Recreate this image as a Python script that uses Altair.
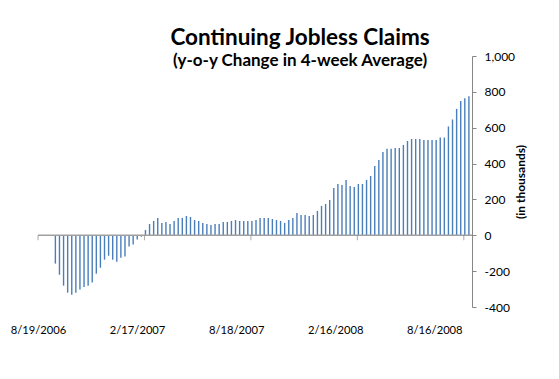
import altair as alt
import pandas as pd

# weekly y-o-y change in 4-week average continuing claims (thousands)
first_week = 4  # first 4 weeks (from 8/19/2006) have no bar
changes = [
    -158, -220, -281, -320, -331, -320, -303, -288, -281, -264,
    -214, -181, -136, -114, -136, -147, -125, -119, -63, -52,
    -24, -8, 30, 63, 80, 97, 69, 74, 63, 80,
    97, 97, 108, 102, 85, 80, 69, 63, 58, 63,
    63, 74, 74, 80, 85, 80, 80, 80, 80, 85,
    97, 97, 97, 91, 85, 80, 69, 85, 97, 124,
    113, 113, 108, 113, 136, 164, 175, 197, 264, 286,
    281, 309, 275, 270, 286, 286, 309, 331, 387, 420,
    465, 482, 482, 487, 487, 504, 526, 537, 537, 537,
    531, 531, 531, 531, 545, 545, 607, 646, 705, 749,
    765, 776,
]
n_weeks = 106
tick_weeks = [0, 26, 52, 78, 104]
label_weeks = [0, 24.2, 48.4, 72.6, 96.8]
date_labels = ["8/19/2006", "2/17/2007", "8/18/2007", "2/16/2008", "8/16/2008"]
y_ticks = [-400, -200, 0, 200, 400, 600, 800, 1000]

df = pd.DataFrame({"week": list(range(first_week, first_week + len(changes))),
                   "change": changes})
ticks_df = pd.DataFrame({"week": tick_weeks, "change": [0] * len(tick_weeks)})
zero_df = pd.DataFrame({"week": [0], "week_end": [n_weeks], "change": [0]})

label_expr = " : ".join(
    f"datum.value < {label_weeks[i] + 5} ? '{date_labels[i]}'" for i in range(len(date_labels) - 1)
) + f" : '{date_labels[-1]}'"

FONT = "Lato"
BLUE = "#4a7ebb"
AXIS_GRAY = "#868686"

xscale = alt.Scale(domain=[0, n_weeks], nice=False, zero=False)
yscale = alt.Scale(domain=[-400, 1000], nice=False, zero=False)

x_axis = alt.Axis(values=label_weeks, labelExpr=label_expr, domain=False,
                  ticks=False, grid=False, labelPadding=17, labelFont=FONT,
                  labelFontSize=11.2, labelColor="#000000", labelFlush=False,
                  labelOverlap=False, title=None)
y_axis = alt.Axis(orient="right", values=y_ticks,
                  labelExpr="replace(format(datum.value, ','), '\u2212', '-')",
                  grid=False, labelOverlap=False, labelFlush=False,
                  domainColor=AXIS_GRAY, tickColor=AXIS_GRAY, tickSize=4,
                  labelPadding=8, labelFont=FONT, labelFontSize=12,
                  labelColor="#000000", titleFont=FONT, titleFontSize=12,
                  titleFontWeight="bold", titleColor="#000000",
                  titleAngle=270, titlePadding=13, title="(in thousands)")

X = alt.X("week:Q", scale=xscale, axis=x_axis)
Y = alt.Y("change:Q", scale=yscale, axis=y_axis)

bars = alt.Chart(df).mark_rule(color=BLUE, strokeWidth=1.4, xOffset=1).encode(
    x=X, y=Y, y2=alt.datum(0),
)

zero_line = alt.Chart(zero_df).mark_rule(color="#a0a0a0", strokeWidth=1.5).encode(
    x=X, x2="week_end:Q", y=Y,
)

zero_ticks = alt.Chart(ticks_df).mark_tick(
    orient="vertical", size=5, thickness=1, yOffset=2.5, color=AXIS_GRAY
).encode(x=X, y=Y)

chart = alt.layer(bars, zero_line, zero_ticks).properties(
    width=434, height=251,
    background="white",
    autosize=alt.AutoSizeParams(type="none"),
    padding={"left": 30, "top": 48, "right": 79, "bottom": 64},
    title=alt.TitleParams(
        text="Continuing Jobless Claims",
        subtitle="(y-o-y Change in 4-week Average)",
        anchor="middle", frame="group", dx=45, offset=-19,
        font=FONT, fontSize=22.5, fontWeight="bold", color="#000000",
        subtitleFont=FONT, subtitleFontSize=17, subtitleFontWeight="bold",
        subtitleColor="#000000", subtitlePadding=4,
    ),
).configure_view(strokeWidth=0, stroke="transparent")

chart.save("out.html", embed_options={"renderer": "svg", "actions": False})
